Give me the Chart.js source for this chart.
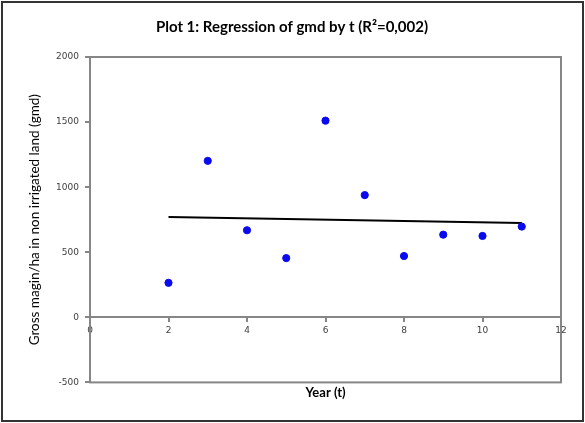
<!DOCTYPE html>
<html>
<head>
<meta charset="utf-8">
<script src="https://cdn.jsdelivr.net/npm/chart.js@4"></script>
<style>
  body { margin: 0; background: #fff; }
</style>
</head>
<body>
<canvas id="plot" width="585" height="423"></canvas>
<script>
const years = [2, 3, 4, 5, 6, 7, 8, 9, 10, 11];
const gmd = [265, 1202, 669, 455, 1511, 939, 471, 635, 625, 697];
const trendYears = [2, 11];
const trendGmd = [770, 724];

const gray = '#868686';
const tickFont = { family: 'DejaVu Sans', size: 9 };

// plot box and outer frame
const frame = {
  id: 'frame',
  beforeDraw (chart) {
    const c = chart.ctx;
    c.save();
    c.fillStyle = '#fff';
    c.fillRect(0, 0, chart.width, chart.height);
    c.strokeStyle = '#333';
    c.lineWidth = 2;
    c.strokeRect(2, 2, chart.width - 4, chart.height - 4);
    c.restore();
  },
  afterDatasetsDraw (chart) {
    const a = chart.chartArea;
    const c = chart.ctx;
    c.save();
    c.strokeStyle = gray;
    c.lineWidth = 2;
    c.strokeRect(a.left, a.top, a.right - a.left, a.bottom - a.top);
    c.restore();
  }
};

new Chart(document.getElementById('plot'), {
  type: 'scatter',
  data: {
    datasets: [{
      label: 'gmd',
      data: years.map((x, i) => ({ x: x, y: gmd[i] })),
      backgroundColor: '#0a0aee',
      borderColor: '#0a0aee',
      pointRadius: 3.6,
      order: 1
    }, {
      type: 'line',
      label: 'trend',
      data: trendYears.map((x, i) => ({ x: x, y: trendGmd[i] })),
      borderColor: '#000',
      borderWidth: 2,
      pointRadius: 0,
      order: 2
    }]
  },
  plugins: [frame],
  options: {
    responsive: false,
    animation: false,
    events: [],
    layout: { padding: { left: 23, right: 24, top: 11, bottom: 18 } },
    plugins: {
      legend: { display: false },
      tooltip: { enabled: false },
      title: {
        display: true,
        text: 'Plot 1: Regression of gmd by t (R²=0,002)',
        font: { family: 'Lato', size: 15, weight: 'bold' },
        color: '#000',
        padding: { top: 7, bottom: 21 }
      }
    },
    scales: {
      x: {
        type: 'linear',
        position: { y: 0 },
        min: 0,
        max: 12,
        ticks: { stepSize: 2, font: tickFont, color: '#404040', padding: 4, callback: v => v },
        grid: { drawOnChartArea: false, color: gray, tickLength: 4, lineWidth: 2 },
        border: { color: gray, width: 2 }
      },
      x2: {
        type: 'linear',
        position: 'bottom',
        axis: 'x',
        min: 0,
        max: 12,
        ticks: { display: false },
        grid: { display: false },
        border: { display: false },
        title: { display: true, text: 'Year (t)', font: { family: 'Lato', size: 13, weight: 'bold' }, color: '#000', padding: { top: -5, bottom: 4 } }
      },
      y: {
        min: -500,
        max: 2000,
        ticks: { stepSize: 500, font: tickFont, color: '#404040', padding: 6, callback: v => v },
        grid: { drawOnChartArea: false, color: gray, tickLength: 5, lineWidth: 2 },
        border: { color: gray, width: 2 },
        title: { display: true, text: 'Gross magin/ha in non irrigated land (gmd)', font: { family: 'Lato', size: 13.5 }, color: '#000', padding: { top: 4, bottom: 4 } },
        afterFit (scale) { scale.width = 67; }
      }
    }
  }
});
</script>
</body>
</html>
